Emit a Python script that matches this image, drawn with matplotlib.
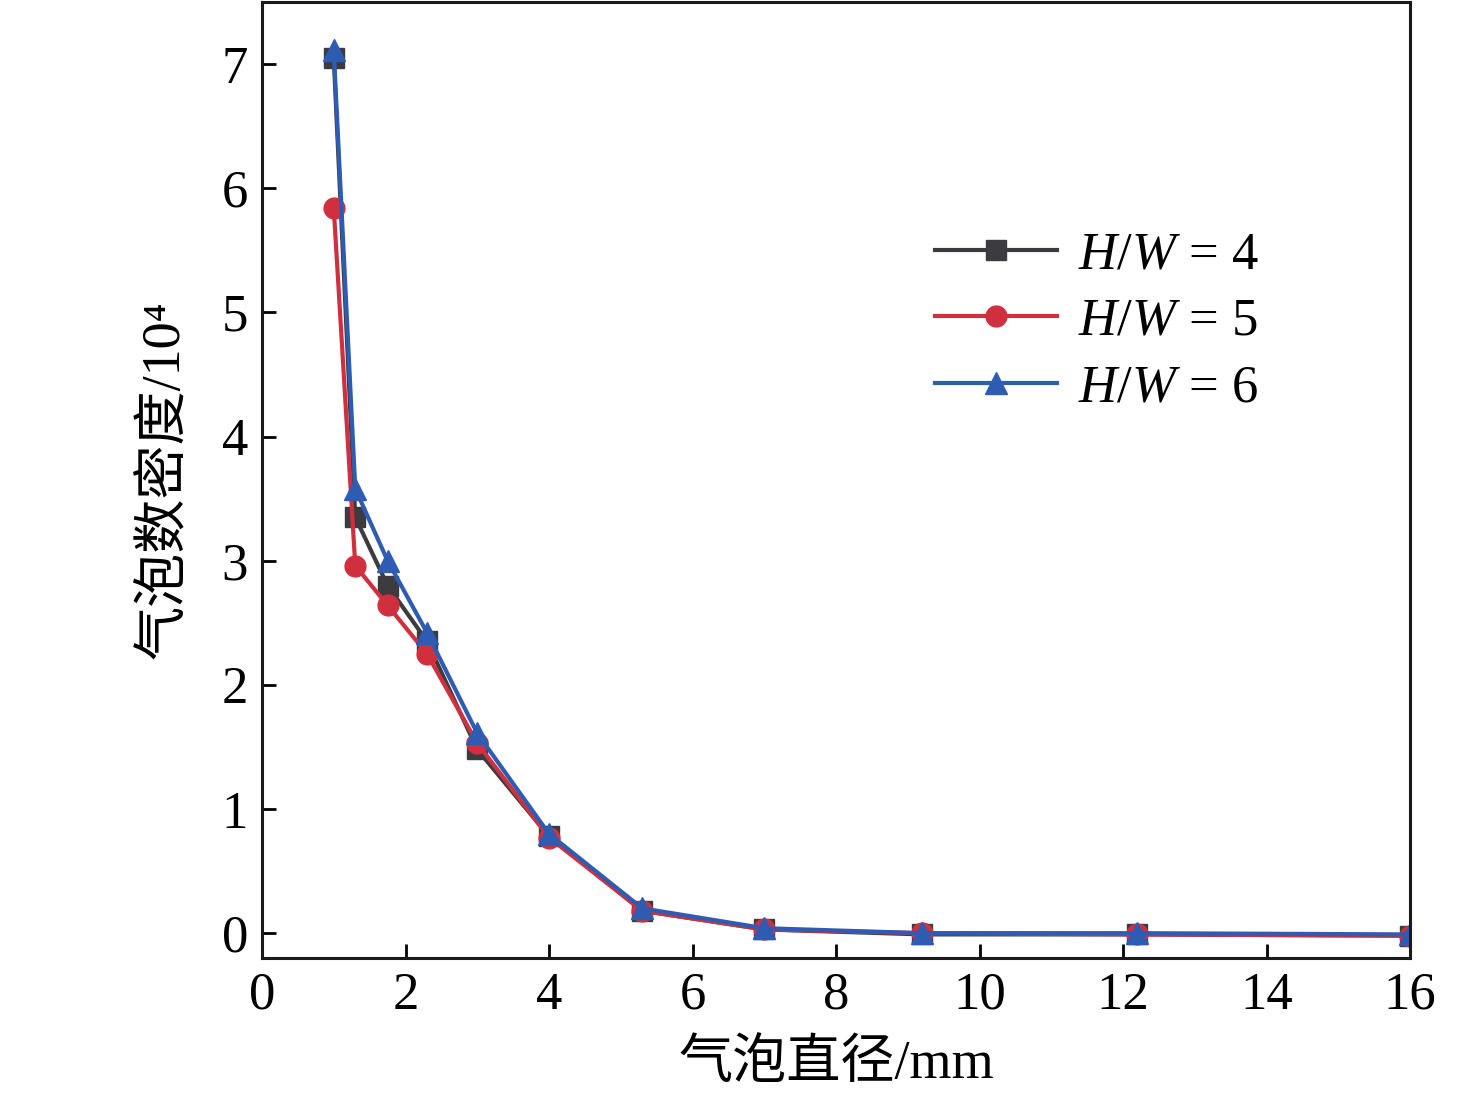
import numpy as np
import matplotlib
matplotlib.use('Agg')
import matplotlib.pyplot as plt

plt.rcParams['font.family'] = ['Liberation Serif', 'Noto Sans CJK SC']
plt.rcParams['mathtext.fontset'] = 'custom'
plt.rcParams['mathtext.rm'] = 'Liberation Serif'
plt.rcParams['mathtext.it'] = 'Liberation Serif:italic'

# bubble diameter (mm)
diameter = [1.0, 1.3, 1.75, 2.3, 3.0, 4.0, 5.3, 7.0, 9.2, 12.2, 16.0]
# bubble number density /10^4
hw4 = [7.05, 3.35, 2.80, 2.35, 1.48, 0.78, 0.18, 0.03, -0.01, -0.01, -0.02]
hw5 = [5.84, 2.96, 2.64, 2.25, 1.53, 0.77, 0.18, 0.03, 0.0, -0.01, -0.02]
hw6 = [7.11, 3.58, 3.00, 2.42, 1.61, 0.80, 0.20, 0.04, 0.0, 0.0, -0.01]
labels = ['$H/W$ = 4', '$H/W$ = 5', '$H/W$ = 6']

fig = plt.figure(figsize=(14.76, 10.99), dpi=100)
ax = fig.add_axes([262/1476, 1 - 958/1099, (1410-262)/1476, (958-2)/1099])

ax.plot(diameter, hw4, color='#3c3c40', marker='s', markersize=14, lw=3, label=labels[0])
ax.plot(diameter, hw5, color='#d0303e', marker='o', markersize=15, lw=3, label=labels[1])
ax.plot(diameter, hw6, color='#2f5cb3', marker='^', markersize=16, lw=3, label=labels[2])

ax.set_xlim(0, 16)
ax.set_ylim(-0.2, 7.5)
ax.set_xticks(np.arange(0, 17, 2))
ax.set_yticks(np.arange(0, 8, 1))
ax.tick_params(direction='in', length=10, width=2, labelsize=38, pad=10)
for s in ax.spines.values():
    s.set_linewidth(2.2)
    s.set_color('#1a1a1a')

ax.set_xlabel('气泡直径/mm', fontsize=39, labelpad=14)
ax.set_ylabel('气泡数密度/10⁴', fontsize=39, labelpad=22)

leg = ax.legend(loc='upper left', bbox_to_anchor=(0.545, 0.81), frameon=False,
                fontsize=38, handlelength=2.3, handletextpad=0.4, labelspacing=0.35)

fig.savefig('out.png', dpi=100)
